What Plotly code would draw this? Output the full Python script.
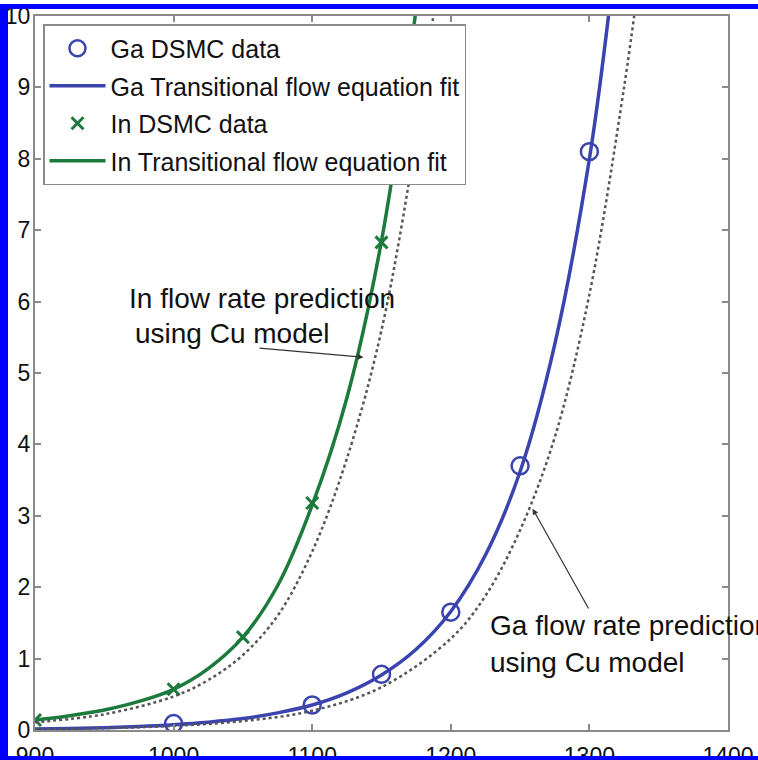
import plotly.graph_objects as go

# ---- data ----
ga_dsmc_x = [1000, 1100, 1150, 1200, 1250, 1300]
ga_dsmc_y = [0.09, 0.35, 0.78, 1.65, 3.7, 8.1]

in_dsmc_x = [900, 1000, 1050, 1100, 1150]
in_dsmc_y = [0.14, 0.57, 1.3, 3.18, 6.83]

ga_fit_x = [900, 925, 950, 975, 1000, 1025, 1050, 1075, 1100, 1125, 1150, 1175, 1200, 1225, 1250, 1275, 1300, 1315]
ga_fit_y = [0.015, 0.022, 0.033, 0.05, 0.075, 0.11, 0.16, 0.24, 0.35, 0.52, 0.77, 1.13, 1.66, 2.45, 3.62, 5.4, 8.0, 10.2]

in_fit_x = [900, 925, 950, 975, 1000, 1025, 1050, 1075, 1100, 1125, 1150, 1175]
in_fit_y = [0.14, 0.2, 0.28, 0.4, 0.57, 0.86, 1.3, 2.02, 3.15, 4.65, 6.85, 10.1]

ga_cu_x = [900, 950, 1000, 1050, 1100, 1150, 1200, 1225, 1250, 1275, 1300, 1325, 1335]
ga_cu_y = [0.012, 0.026, 0.058, 0.125, 0.27, 0.6, 1.28, 1.88, 2.8, 4.1, 6.1, 9.0, 10.4]

in_cu_x = [900, 950, 1000, 1025, 1050, 1075, 1100, 1125, 1150, 1175, 1190]
in_cu_y = [0.11, 0.22, 0.47, 0.7, 1.05, 1.6, 2.5, 3.8, 5.6, 8.3, 10.4]

x_ticks = [900, 1000, 1100, 1200, 1300, 1400]
y_ticks = [0, 1, 2, 3, 4, 5, 6, 7, 8, 9, 10]

BLUE = "#3a43ae"
GREEN = "#1c7a3c"
DOT = "#555555"
AXIS = "#8a8a8a"
SANS = "Liberation Sans, Arial, sans-serif"

W, H = 758, 760
L, R, T, B = 35, 30, 16, 30

fig = go.Figure()

fig.add_trace(go.Scatter(x=ga_dsmc_x, y=ga_dsmc_y, mode="markers", name="Ga DSMC data", legendgroup="a",
                         marker=dict(symbol="circle-open", size=17, color=BLUE, line=dict(width=2.5, color=BLUE))))
fig.add_trace(go.Scatter(x=ga_fit_x, y=ga_fit_y, mode="lines", name="Ga Transitional flow equation fit", legendgroup="b",
                         line=dict(color=BLUE, width=3.5, shape="spline")))
fig.add_trace(go.Scatter(x=in_dsmc_x, y=in_dsmc_y, mode="markers", name="In DSMC data", legendgroup="c",
                         marker=dict(symbol="x-thin-open", size=12, color=GREEN, line=dict(width=3, color=GREEN))))
fig.add_trace(go.Scatter(x=in_fit_x, y=in_fit_y, mode="lines", name="In Transitional flow equation fit", legendgroup="d",
                         line=dict(color=GREEN, width=3.5, shape="spline")))
fig.add_trace(go.Scatter(x=ga_cu_x, y=ga_cu_y, mode="lines", showlegend=False,
                         line=dict(color=DOT, width=2.5, dash="dot", shape="spline")))
fig.add_trace(go.Scatter(x=in_cu_x, y=in_cu_y, mode="lines", showlegend=False,
                         line=dict(color=DOT, width=2.5, dash="dot", shape="spline")))

pw = W - L - R
ph = H - T - B

def px_x(p):
    return (p - L) / pw

def px_y(p):
    return (H - B - p) / ph

# blue frame of the cropped figure
shapes = [
    dict(type="rect", xref="paper", yref="paper", x0=px_x(0), x1=px_x(8), y0=px_y(760), y1=px_y(4),
         fillcolor="#0000ff", line=dict(width=0), layer="above"),
    dict(type="rect", xref="paper", yref="paper", x0=px_x(0), x1=px_x(758), y0=px_y(9), y1=px_y(4),
         fillcolor="#0000ff", line=dict(width=0), layer="above"),
    dict(type="rect", xref="paper", yref="paper", x0=px_x(0), x1=px_x(758), y0=px_y(760), y1=px_y(756),
         fillcolor="#0000ff", line=dict(width=0), layer="above"),
]

ann_font = dict(family=SANS, size=28, color="#111111")
annotations = [
    dict(text="In flow rate prediction", x=px_x(127), y=px_y(298), xref="paper", yref="paper",
         xanchor="left", yanchor="middle", showarrow=False, font=ann_font),
    dict(text="using Cu model", x=px_x(133), y=px_y(333), xref="paper", yref="paper",
         xanchor="left", yanchor="middle", showarrow=False, font=ann_font),
    dict(text="Ga flow rate prediction", x=px_x(488), y=px_y(625), xref="paper", yref="paper",
         xanchor="left", yanchor="middle", showarrow=False, font=ann_font),
    dict(text="using Cu model", x=px_x(488), y=px_y(662), xref="paper", yref="paper",
         xanchor="left", yanchor="middle", showarrow=False, font=ann_font),
    dict(text="", x=1137, y=5.22, ax=1061, ay=5.35, xref="x", yref="y", axref="x", ayref="y",
         showarrow=True, arrowhead=2, arrowsize=1, arrowwidth=1.2, arrowcolor="#333333"),
    dict(text="", x=1259, y=3.1, ax=1300, ay=1.68, xref="x", yref="y", axref="x", ayref="y",
         showarrow=True, arrowhead=2, arrowsize=1, arrowwidth=1.2, arrowcolor="#333333"),
]

fig.update_layout(
    width=W, height=H,
    margin=dict(l=L, r=R, t=T, b=B, pad=0, autoexpand=False),
    paper_bgcolor="white", plot_bgcolor="white",
    showlegend=True,
    legend=dict(x=px_x(43), y=px_y(24), xanchor="left", yanchor="top",
                bgcolor="white", bordercolor=AXIS, borderwidth=1.5,
                font=dict(family=SANS, size=25, color="#111111"),
                itemwidth=56, tracegroupgap=2),
    shapes=shapes,
    annotations=annotations,
)

fig.update_xaxes(range=[900, 1400], tickvals=x_ticks, ticktext=[str(v) for v in x_ticks],
                 ticks="inside", ticklen=6, tickwidth=1.5, tickcolor=AXIS,
                 showline=True, linecolor=AXIS, linewidth=2, mirror="ticks",
                 showgrid=False, zeroline=False, automargin=False,
                 tickfont=dict(family=SANS, size=23, color="#111111"), ticklabelstandoff=4)
fig.update_yaxes(range=[0, 10], tickvals=y_ticks, ticktext=[str(v) for v in y_ticks],
                 ticks="inside", ticklen=6, tickwidth=1.5, tickcolor=AXIS,
                 showline=True, linecolor=AXIS, linewidth=2, mirror="ticks",
                 showgrid=False, zeroline=False, automargin=False,
                 tickfont=dict(family=SANS, size=23, color="#111111"), ticklabelstandoff=-2)

fig.write_html("out.html", config={"displayModeBar": False},
               post_script="document.body.style.margin='0';document.body.style.overflow='hidden';")
